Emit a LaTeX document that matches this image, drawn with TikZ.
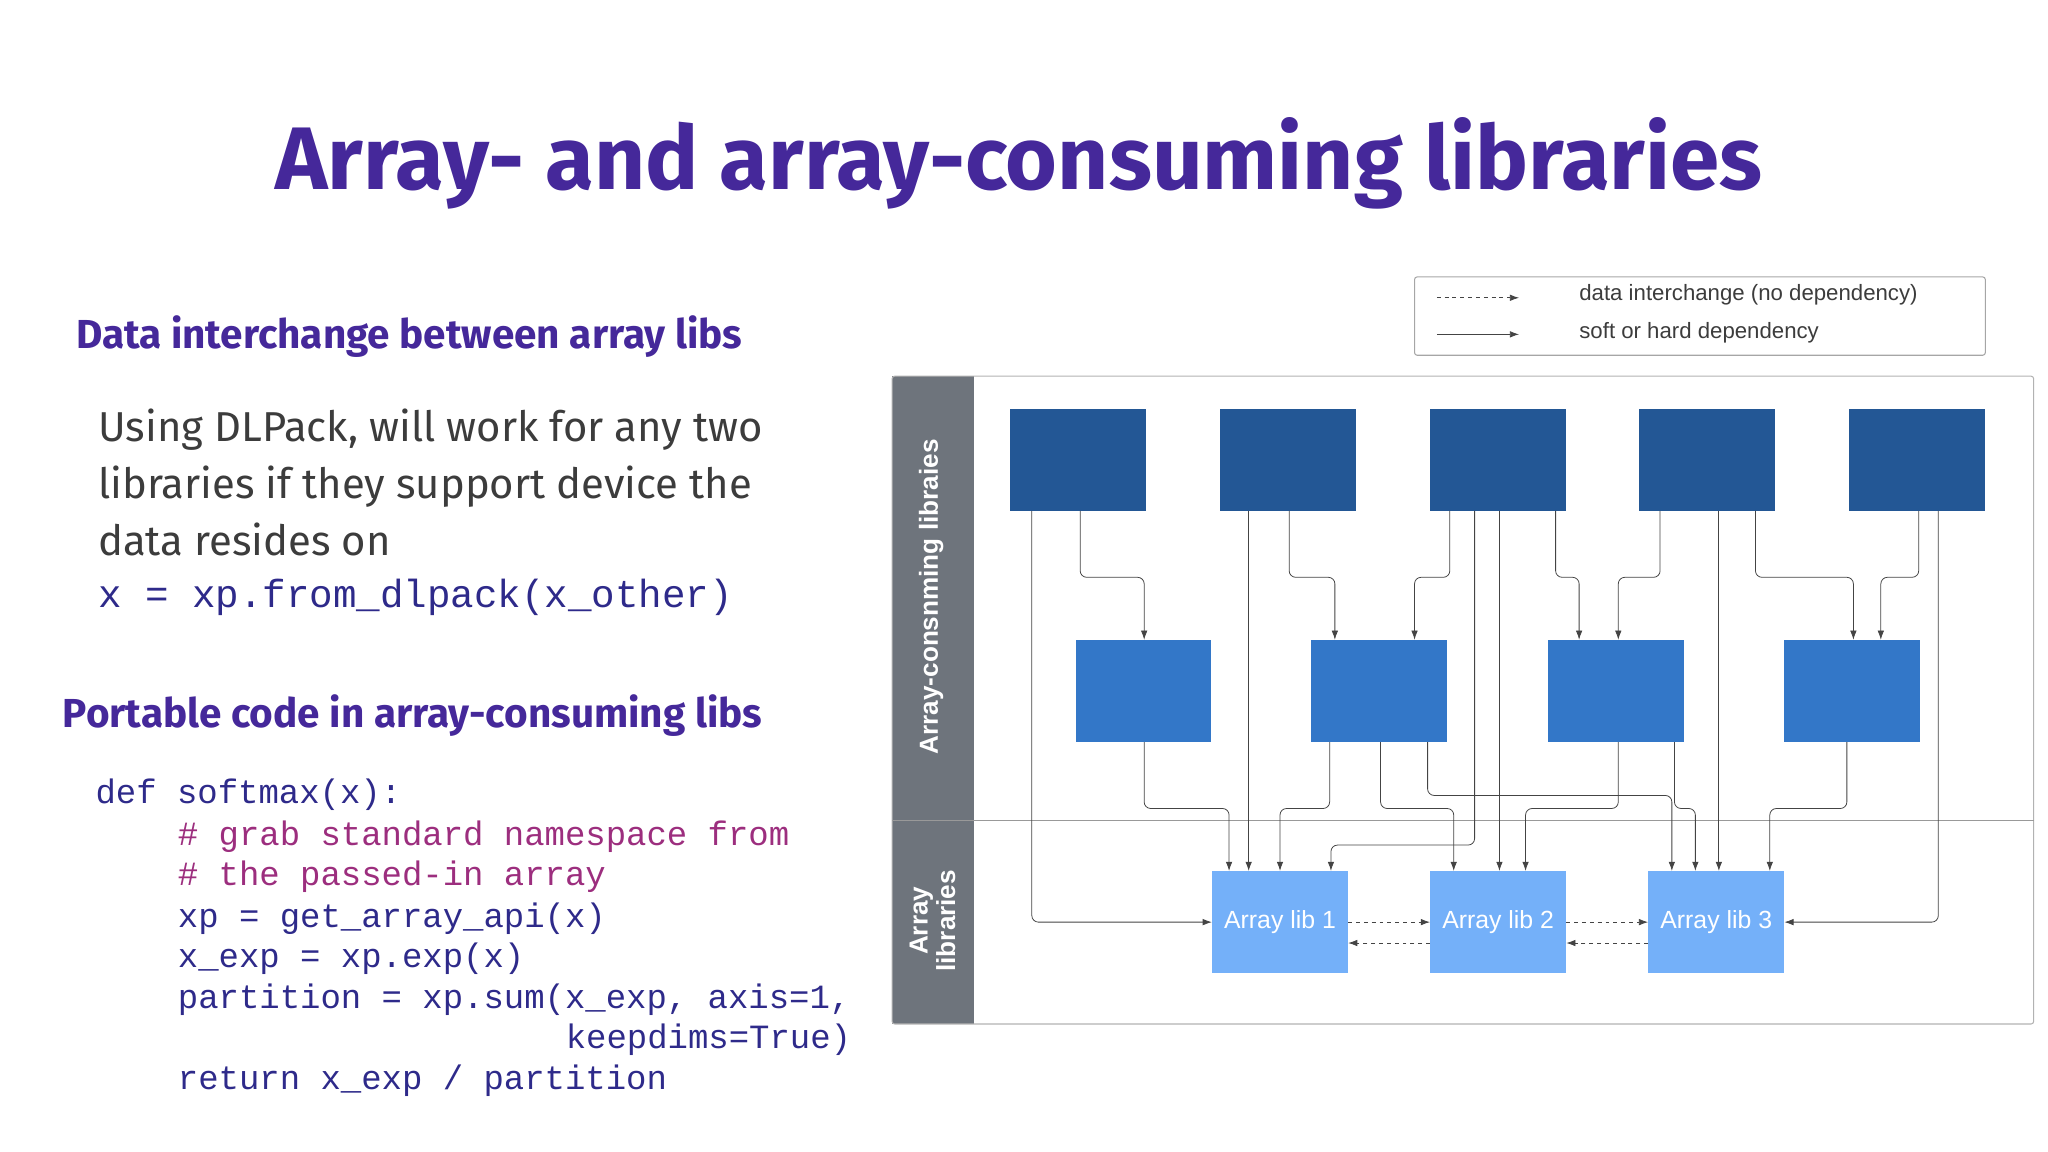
\documentclass[tikz,border=0pt]{standalone}
\usepackage{fontspec}
\setmainfont{Fira Sans}
\newfontfamily\diag{Liberation Sans}
\newfontfamily\code{Liberation Mono}
\usetikzlibrary{arrows.meta}
\definecolor{ttl}{HTML}{45289A}
\definecolor{body}{HTML}{3C3C3C}
\definecolor{cde}{HTML}{2E2A8A}
\definecolor{cmt}{HTML}{9C2E7E}
\definecolor{bar}{HTML}{6E747C}
\definecolor{topc}{HTML}{235795}
\definecolor{midc}{HTML}{3377C8}
\definecolor{libc}{HTML}{74B0F9}
\definecolor{wire}{HTML}{444444}
\tikzset{
  box/.style={draw=none,minimum width=104pt,minimum height=78pt,inner sep=0pt},
  top/.style={box,fill=topc},
  mid/.style={box,fill=midc},
  lib/.style={box,fill=libc,text=white,font=\diag\fontsize{19}{19}\selectfont},
  dep/.style={draw=wire,line width=0.6pt,rounded corners=5pt,-{Latex[length=7pt,width=5pt]}},
  xch/.style={dep,dashed,rounded corners=0pt},
  codeln/.style={anchor=base west,inner sep=0pt,text=cde,font=\code\fontsize{26}{26}\selectfont},
}
\begin{document}
\begin{tikzpicture}[x=1pt,y=-1pt]
\useasboundingbox (0,0) rectangle (1568,882);
% title and left column
\node[anchor=base,text=ttl,font=\bfseries\fontsize{68}{68}\selectfont] (title) at (780,145) {Array- and array-consuming libraries};
\node[anchor=base west,inner sep=0pt,text=ttl,font=\bfseries\fontsize{31}{31}\selectfont] (h1) at (58,267) {Data interchange between array libs};
\node[anchor=base west,inner sep=0pt,text=body,font=\fontsize{32}{32}\selectfont] (b1) at (75,338) {Using DLPack, will work for any two};
\node[anchor=base west,inner sep=0pt,text=body,font=\fontsize{32}{32}\selectfont] (b2) at (75,382) {libraries if they support device the};
\node[anchor=base west,inner sep=0pt,text=body,font=\fontsize{32}{32}\selectfont] (b3) at (75,425) {data resides on};
\node[codeln,font=\code\fontsize{30}{30}\selectfont] (b4) at (75,465) {x = xp.from\_dlpack(x\_other)};
\node[anchor=base west,inner sep=0pt,text=ttl,font=\bfseries\fontsize{31}{31}\selectfont] (h2) at (48,557) {Portable code in array-consuming libs};
\node[codeln] (c1) at (73,615) {def softmax(x):};
\node[codeln,text=cmt] (c2) at (136,647) {\# grab standard namespace from};
\node[codeln,text=cmt] (c3) at (136,678) {\# the passed-in array};
\node[codeln] (c4) at (136,710) {xp = get\_array\_api(x)};
\node[codeln] (c5) at (136,741) {x\_exp = xp.exp(x)};
\node[codeln] (c6) at (136,772) {partition = xp.sum(x\_exp, axis=1,};
\node[codeln] (c7) at (433,803) {keepdims=True)};
\node[codeln] (c8) at (136,834) {return x\_exp / partition};
% legend
\draw[gray!70,line width=0.8pt,rounded corners=2pt] (1083,212) rectangle (1520,272);
\coordinate (la1) at (1100,228); \coordinate (la2) at (1163,228);
\coordinate (lb1) at (1100,256); \coordinate (lb2) at (1163,256);
\draw[xch] (la1) -- (la2);
\draw[dep] (lb1) -- (lb2);
\node[anchor=west,inner sep=0pt,font=\diag\fontsize{17}{17}\selectfont,text=body] (lt1) at (1209,226) {data interchange (no dependency)};
\node[anchor=west,inner sep=0pt,font=\diag\fontsize{17}{17}\selectfont,text=body] (lt2) at (1209,255) {soft or hard dependency};
% frame
\fill[bar] (683,288) rectangle (746,784);
\draw[gray!60,line width=0.8pt,rounded corners=2pt] (683,288) rectangle (1557,784);
\draw[gray!80,line width=0.8pt] (683,628) -- (1557,628);
\node[rotate=90,text=white,font=\diag\bfseries\fontsize{20}{20}\selectfont] (lane1) at (713,457) {Array-consnming libraies};
\node[rotate=90,text=white,align=center,font=\diag\bfseries\fontsize{20}{21}\selectfont] (lane2) at (714,705) {Array\\libraries};
% boxes
\node[top] (t1) at (825.5,352) {};
\node[top] (t2) at (986,352) {};
\node[top] (t3) at (1147,352) {};
\node[top] (t4) at (1307,352) {};
\node[top] (t5) at (1468,352) {};
\node[mid] (m1) at (875.5,529) {};
\node[mid] (m2) at (1056,529) {};
\node[mid] (m3) at (1237,529) {};
\node[mid] (m4) at (1418,529) {};
\node[lib] (l1) at (980,706) {Array lib 1};
\node[lib] (l2) at (1147,706) {Array lib 2};
\node[lib] (l3) at (1314,706) {Array lib 3};
% dependencies: top row
\draw[dep] (t1.south -| 790,0) |- (l1.west);
\draw[dep] (t1.south -| 827,0) |- (876,442) -- (m1.north -| 876,0);
\draw[dep] (t2.south -| 956,0) -- (l1.north -| 956,0);
\draw[dep] (t2.south -| 987,0) |- (1022,442) -- (m2.north -| 1022,0);
\draw[dep] (t3.south -| 1110,0) |- (1083,442) -- (m2.north -| 1083,0);
\draw[dep] (t3.south -| 1129,0) |- (1019,647) -- (l1.north -| 1019,0);
\draw[dep] (t3.south -| 1148,0) -- (l2.north -| 1148,0);
\draw[dep] (t3.south -| 1191,0) |- (1209,442) -- (m3.north -| 1209,0);
\draw[dep] (t4.south -| 1271,0) |- (1239,442) -- (m3.north -| 1239,0);
\draw[dep] (t4.south -| 1316,0) -- (l3.north -| 1316,0);
\draw[dep] (t4.south -| 1344,0) |- (1419,442) -- (m4.north -| 1419,0);
\draw[dep] (t5.south -| 1469,0) |- (1440,442) -- (m4.north -| 1440,0);
\draw[dep] (t5.south -| 1484,0) |- (l3.east);
% dependencies: middle row
\draw[dep] (m1.south -| 876,0) |- (941,619) -- (l1.north -| 941,0);
\draw[dep] (m2.south -| 1018,0) |- (980,619) -- (l1.north -| 980,0);
\draw[dep] (m2.south -| 1057,0) |- (1113,619) -- (l2.north -| 1113,0);
\draw[dep] (m2.south -| 1093,0) |- (1280,609) -- (l3.north -| 1280,0);
\draw[dep] (m3.south -| 1239,0) |- (1168,619) -- (l2.north -| 1168,0);
\draw[dep] (m3.south -| 1282,0) |- (1298,619) -- (l3.north -| 1298,0);
\draw[dep] (m4.south -| 1414,0) |- (1355,619) -- (l3.north -| 1355,0);
% interchange
\draw[xch] (l1.east) -- (l2.west);
\draw[xch] (l2.east) -- (l3.west);
\draw[xch] (l2.west |- 0,722) -- (l1.east |- 0,722);
\draw[xch] (l3.west |- 0,722) -- (l2.east |- 0,722);
\end{tikzpicture}
\end{document}
